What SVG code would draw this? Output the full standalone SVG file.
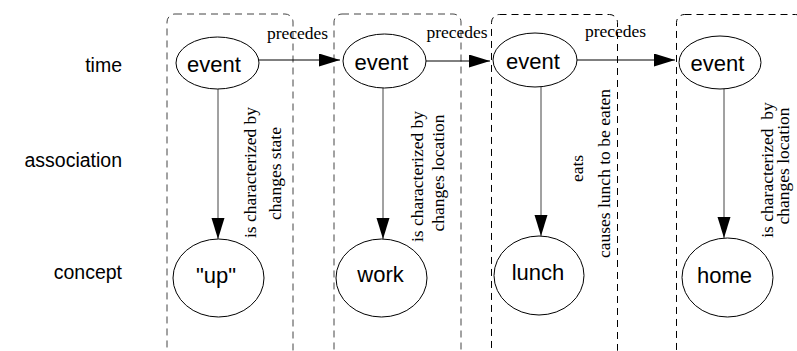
<svg xmlns="http://www.w3.org/2000/svg" width="797" height="351" viewBox="0 0 797 351">
<style>
.box{fill:none;stroke:#444;stroke-width:1;stroke-dasharray:7,5}
.box.dark{stroke:#000}
.node{fill:#fff;stroke:#000;stroke-width:1}
.ntext{font-family:"Liberation Sans",Arial,sans-serif;font-size:22px;text-anchor:middle;fill:#000}
.row{font-family:"Liberation Sans",Arial,sans-serif;font-size:19.5px;text-anchor:end;fill:#000}
.elabel{font-family:"Liberation Serif","Times New Roman",serif;font-size:17.5px;text-anchor:middle;fill:#000}
.edge{fill:none;stroke:#000;stroke-width:1}
.vedge{fill:none;stroke:#444;stroke-width:1}
</style>
<defs>
<marker id="arr" markerUnits="userSpaceOnUse" markerWidth="22" markerHeight="14" refX="21" refY="6.5" orient="auto">
<path d="M0,0 L21,6.5 L0,13 Z" fill="#000"/>
</marker>
</defs>
<rect width="797" height="351" fill="#fff"/>
<g id="lanes">
<rect class="box" x="167" y="14" width="126" height="344" rx="8"/>
<rect class="box" x="334" y="14" width="127" height="344" rx="8"/>
<rect class="box dark" x="491.5" y="14.5" width="126" height="344" rx="8"/>
<rect class="box dark" x="676.5" y="14.5" width="127" height="344" rx="8"/>
</g>
<g id="row-labels">
<text class="row" x="122" y="72">time</text>
<text class="row" x="122" y="167">association</text>
<text class="row" x="122" y="279">concept</text>
</g>
<g id="connectors">
<line class="edge" x1="259" y1="60" x2="340" y2="60" marker-end="url(#arr)"/>
<line class="edge" x1="426" y1="61" x2="490" y2="61" marker-end="url(#arr)"/>
<line class="edge" x1="577" y1="60" x2="675" y2="60" marker-end="url(#arr)"/>
<text class="elabel" x="297.5" y="39">precedes</text>
<text class="elabel" x="457" y="38">precedes</text>
<text class="elabel" x="615.5" y="37">precedes</text>
<line class="vedge" x1="218" y1="89" x2="218" y2="239" marker-end="url(#arr)"/>
<line class="vedge" x1="383" y1="88" x2="383" y2="239" marker-end="url(#arr)"/>
<line class="vedge" x1="541" y1="87" x2="541" y2="236" marker-end="url(#arr)"/>
<line class="vedge" x1="724" y1="89" x2="724" y2="238" marker-end="url(#arr)"/>
<text class="elabel" transform="translate(256,172.5) rotate(-90)">is characterized by</text>
<text class="elabel" transform="translate(281,173.5) rotate(-90)">changes state</text>
<text class="elabel" transform="translate(423,176.5) rotate(-90)">is characterized by</text>
<text class="elabel" transform="translate(444,173) rotate(-90)">changes location</text>
<text class="elabel" transform="translate(583,168.5) rotate(-90)">eats</text>
<text class="elabel" transform="translate(610,173.5) rotate(-90)">causes lunch to be eaten</text>
<text class="elabel" transform="translate(773,170) rotate(-90)" xml:space="preserve">is characterized  by</text>
<text class="elabel" transform="translate(789,166) rotate(-90)">changes location</text>
</g>
<g id="event1"><ellipse class="node" cx="217.5" cy="63" rx="41.5" ry="26"/><text class="ntext" x="214" y="72">event</text></g>
<g id="event2"><ellipse class="node" cx="384.5" cy="61" rx="41.5" ry="27"/><text class="ntext" x="381.5" y="70">event</text></g>
<g id="event3"><ellipse class="node" cx="535" cy="60" rx="42" ry="27"/><text class="ntext" x="533" y="69">event</text></g>
<g id="event4"><ellipse class="node" cx="720" cy="62.5" rx="41" ry="26.5"/><text class="ntext" x="717.5" y="71">event</text></g>
<g id="up"><ellipse class="node" cx="218.5" cy="278" rx="45.5" ry="39"/><text class="ntext" x="216" y="283">"up"</text></g>
<g id="work"><ellipse class="node" cx="381.5" cy="278" rx="45.5" ry="39"/><text class="ntext" x="380.5" y="282">work</text></g>
<g id="lunch"><ellipse class="node" cx="539" cy="275.5" rx="45" ry="39.5"/><text class="ntext" x="538" y="280">lunch</text></g>
<g id="home"><ellipse class="node" cx="727.5" cy="277.5" rx="45.5" ry="39.5"/><text class="ntext" x="724.5" y="283">home</text></g>
</svg>
